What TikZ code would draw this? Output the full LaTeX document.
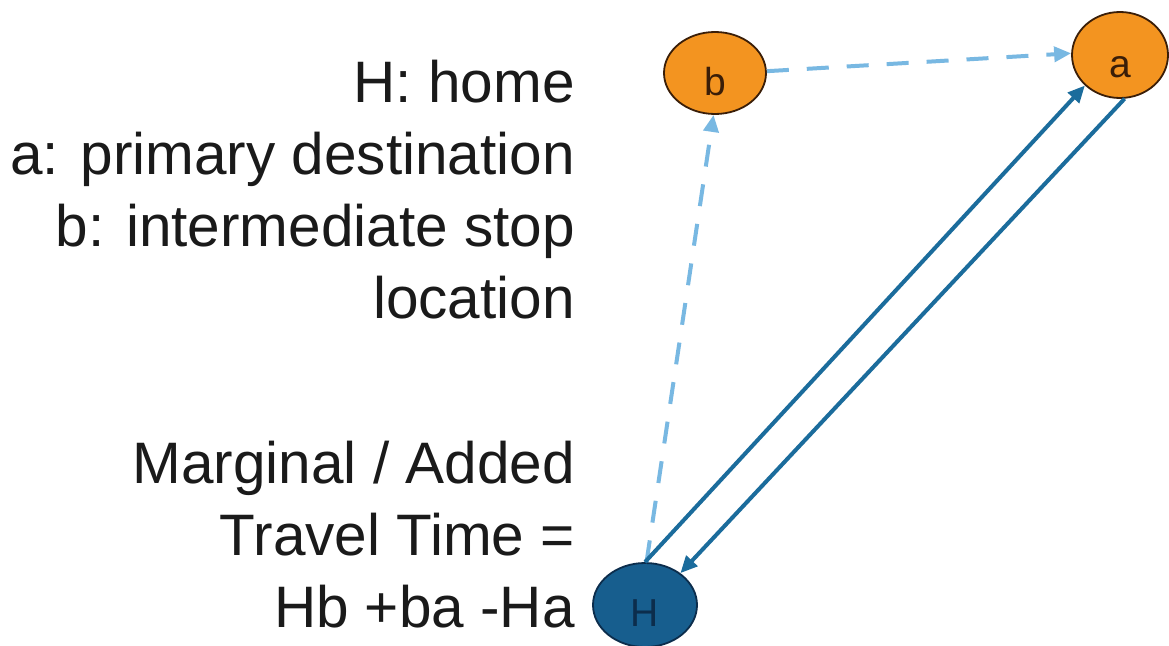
\documentclass[tikz,border=0pt]{standalone}
\usepackage{fontspec}
\setmainfont{Liberation Sans}
\usetikzlibrary{arrows.meta,shapes.geometric}
\definecolor{txt}{HTML}{1A1A1A}
\definecolor{orangefill}{HTML}{F39420}
\definecolor{orangeline}{HTML}{3A1E08}
\definecolor{hfill}{HTML}{175E8E}
\definecolor{hline}{HTML}{0C2D4C}
\definecolor{solidblue}{HTML}{1B6C9C}
\definecolor{dashblue}{HTML}{78B8E2}
\tikzset{
  maintext/.style={anchor=base east, inner sep=0pt, text=txt, font=\fontsize{58.5}{72}\selectfont},
  stopnode/.style={ellipse, draw=orangeline, line width=1.8pt, fill=orangefill, inner sep=0pt, text=orangeline, font=\fontsize{39}{39}\selectfont, text height=44pt, text depth=0pt},
  homenode/.style={ellipse, draw=hline, line width=1.8pt, fill=hfill, inner sep=0pt, text=hline, font=\fontsize{39}{39}\selectfont, text height=42pt, text depth=0pt},
  solidarrow/.style={draw=solidblue, line width=4pt, -{Triangle[length=17pt,width=15pt]}},
  dasharrow/.style={draw=dashblue, line width=4pt, dash pattern=on 22pt off 18pt, -{Triangle[length=17pt,width=15pt]}}
}
\begin{document}
\begin{tikzpicture}[x=1pt,y=-1pt]
\useasboundingbox (0,0) rectangle (1169,645);
\fill[white] (0,0) rectangle (1169,645);
% legend text
\node[maintext] (l1) at (575,102) {H: home};
\node[maintext] (l2) at (575,174) {a: primary destination};
\node[maintext] (l3) at (575,246) {b: intermediate stop};
\node[maintext] (l4) at (575,318) {location};
\node[maintext] (m1) at (575,483) {Marginal / Added};
\node[maintext] (m2) at (575,555) {Travel Time =};
\node[maintext] (m3) at (575,627) {Hb +ba -Ha};
% nodes
\node[stopnode, minimum width=102pt, minimum height=82pt] (b) at (715,73) {b};
\node[stopnode, minimum width=96pt, minimum height=86pt] (a) at (1120,55) {a};
\node[homenode, minimum width=104pt, minimum height=84pt] (H) at (645,605) {H};
% connectors
\draw[dasharrow] (H.88) -- (b.268);
\draw[dasharrow] (b.2) -- (a.178);
\draw[solidarrow] (H.90) -- (a.221);
\draw[solidarrow] (a.276) -- (H.42);
\end{tikzpicture}
\end{document}
